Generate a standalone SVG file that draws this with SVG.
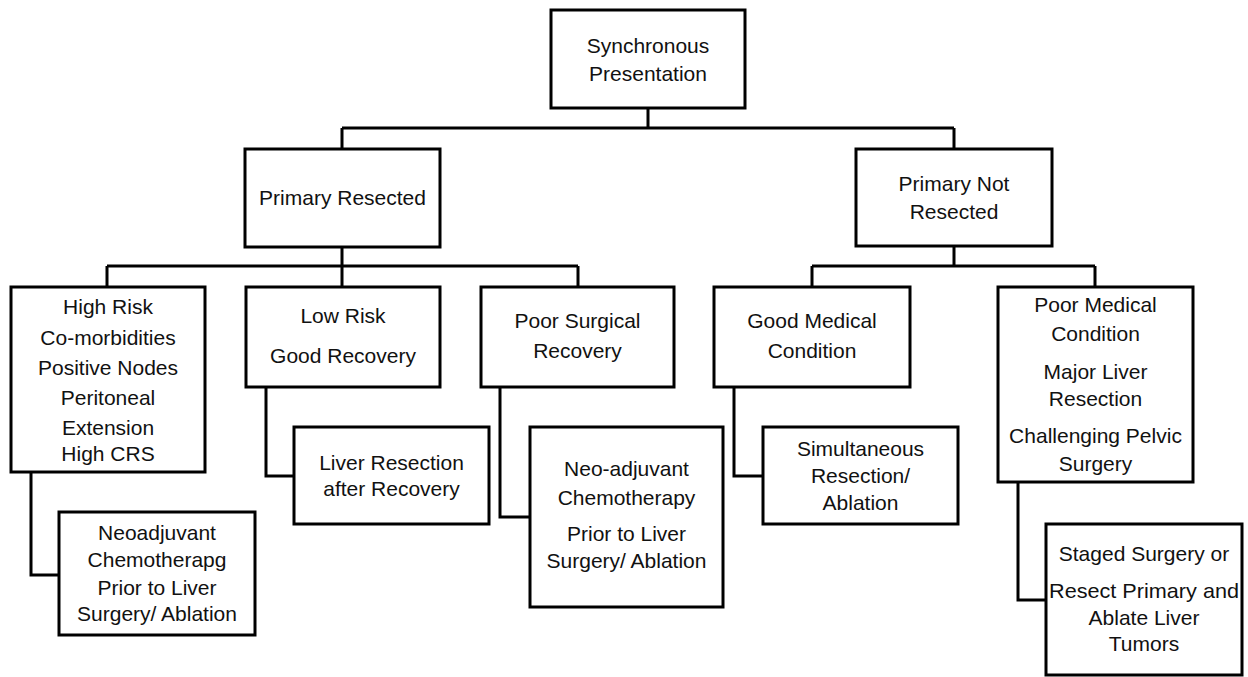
<svg xmlns="http://www.w3.org/2000/svg" width="1248" height="677" viewBox="0 0 1248 677">
<style>
.box{fill:#fff;stroke:#000;stroke-width:3}
.ln{fill:none;stroke:#000;stroke-width:3;stroke-linejoin:miter}
text{font-family:"Liberation Sans",Arial,sans-serif;font-size:21px;fill:#111;text-anchor:middle;dominant-baseline:central}
</style>
<rect width="1248" height="677" fill="#fff"/>
<g id="connectors">
<path class="ln" d="M648,108 V128 M342,128 H954 M342,128 V149 M954,128 V149"/>
<path class="ln" d="M342,247 V266 M107,266 H578 M107,266 V287 M342,266 V287 M578,266 V287"/>
<path class="ln" d="M954,246 V266 M812,266 H1095 M812,266 V287 M1095,266 V287"/>
<path class="ln" d="M31,472 V575 H59"/>
<path class="ln" d="M266,387 V476 H294"/>
<path class="ln" d="M500,387 V517 H530"/>
<path class="ln" d="M734,387 V476 H763"/>
<path class="ln" d="M1018,482 V600 H1046"/>
</g>
<g id="n-sync"><rect class="box" x="551" y="10" width="194" height="98"/><text x="648" y="45">Synchronous</text><text x="648" y="73">Presentation</text></g>
<g id="n-resected"><rect class="box" x="245" y="149" width="195" height="98"/><text x="342.5" y="197">Primary Resected</text></g>
<g id="n-notresected"><rect class="box" x="856" y="149" width="196" height="97"/><text x="954" y="183">Primary Not</text><text x="954" y="211">Resected</text></g>
<g id="n-highrisk"><rect class="box" x="11" y="287" width="194" height="185"/><text x="108" y="306">High Risk</text><text x="108" y="337">Co-morbidities</text><text x="108" y="367">Positive Nodes</text><text x="108" y="397">Peritoneal</text><text x="108" y="427">Extension</text><text x="108" y="453">High CRS</text></g>
<g id="n-lowrisk"><rect class="box" x="246" y="287" width="194" height="100"/><text x="343" y="315">Low Risk</text><text x="343" y="355">Good Recovery</text></g>
<g id="n-poorsurg"><rect class="box" x="481" y="287" width="193" height="100"/><text x="577.5" y="320">Poor Surgical</text><text x="577.5" y="350">Recovery</text></g>
<g id="n-goodmed"><rect class="box" x="714" y="287" width="196" height="100"/><text x="812" y="320">Good Medical</text><text x="812" y="350">Condition</text></g>
<g id="n-poormed"><rect class="box" x="998" y="287" width="195" height="195"/><text x="1095.5" y="304">Poor Medical</text><text x="1095.5" y="333">Condition</text><text x="1095.5" y="371">Major Liver</text><text x="1095.5" y="398">Resection</text><text x="1095.5" y="435">Challenging Pelvic</text><text x="1095.5" y="463">Surgery</text></g>
<g id="n-neoadj1"><rect class="box" x="59" y="512" width="196" height="123"/><text x="157" y="532">Neoadjuvant</text><text x="157" y="559">Chemotherapg</text><text x="157" y="587">Prior to Liver</text><text x="157" y="613">Surgery/ Ablation</text></g>
<g id="n-liverres"><rect class="box" x="294" y="427" width="195" height="97"/><text x="391.5" y="462">Liver Resection</text><text x="391.5" y="488">after Recovery</text></g>
<g id="n-neoadj2"><rect class="box" x="530" y="427" width="193" height="180"/><text x="626.5" y="468">Neo-adjuvant</text><text x="626.5" y="497">Chemotherapy</text><text x="626.5" y="533">Prior to Liver</text><text x="626.5" y="560">Surgery/ Ablation</text></g>
<g id="n-simult"><rect class="box" x="763" y="427" width="195" height="97"/><text x="860.5" y="448">Simultaneous</text><text x="860.5" y="475">Resection/</text><text x="860.5" y="502">Ablation</text></g>
<g id="n-staged"><rect class="box" x="1046" y="524" width="196" height="151"/><text x="1144" y="553">Staged Surgery or</text><text x="1144" y="590" textLength="190" lengthAdjust="spacingAndGlyphs">Resect Primary and</text><text x="1144" y="617">Ablate Liver</text><text x="1144" y="643">Tumors</text></g>
</svg>
